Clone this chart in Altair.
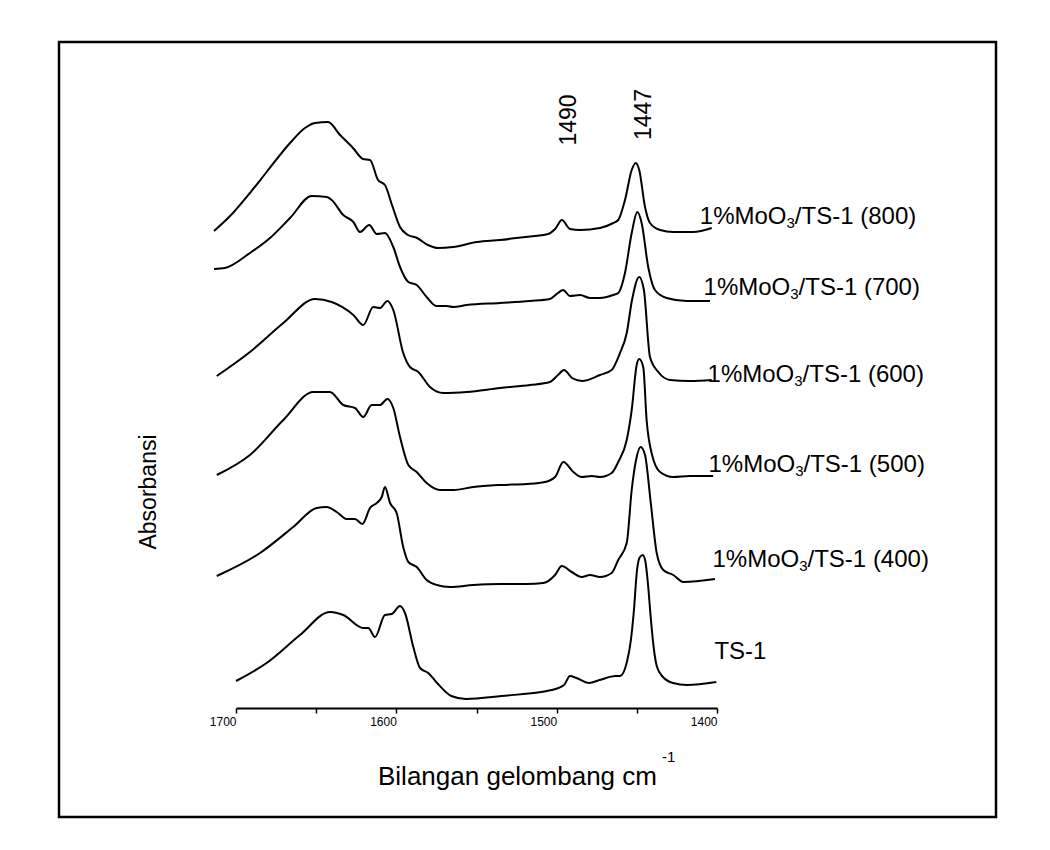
import altair as alt
import pandas as pd

# FTIR spectra of pyridine adsorbed on TS-1 and 1%MoO3/TS-1 calcined at 400-800 C
# wavenumber (cm-1) and stacked absorbance (a.u.)
wn_800 = [1713.7, 1701.9, 1691.3, 1680.9, 1666.3, 1657.0, 1650.7, 1642.6, 1635.1, 1627.0,
          1620.8, 1616.4, 1611.4, 1607.1, 1602.7, 1597.7, 1592.7, 1587.1, 1580.3, 1574.0,
          1564.7, 1549.7, 1535.3, 1519.7, 1505.4, 1501.0, 1496.7, 1491.7, 1485.4, 1473.0,
          1464.7, 1461.6, 1457.4, 1453.2, 1450.7, 1448.5, 1444.9, 1441.8, 1435.5, 1427.3,
          1414.8, 1403.3]
ab_800 = [4.77, 4.95, 5.15, 5.36, 5.65, 5.80, 5.85, 5.86, 5.73, 5.60,
          5.49, 5.48, 5.28, 5.23, 5.03, 4.81, 4.73, 4.70, 4.63, 4.60,
          4.61, 4.66, 4.68, 4.71, 4.74, 4.79, 4.88, 4.79, 4.78, 4.80,
          4.85, 4.88, 5.08, 5.38, 5.45, 5.38, 5.01, 4.85, 4.78, 4.76,
          4.76, 4.80]

wn_700 = [1713.7, 1706.9, 1691.3, 1678.8, 1666.3, 1652.8, 1643.4, 1640.3, 1633.1, 1626.8,
          1622.7, 1616.9, 1612.2, 1607.1, 1601.9, 1597.7, 1592.5, 1587.3, 1581.1, 1574.8,
          1568.6, 1564.5, 1556.1, 1535.3, 1516.6, 1504.2, 1499.2, 1496.0, 1491.7, 1485.4,
          1479.2, 1473.0, 1464.7, 1461.6, 1457.4, 1453.2, 1449.7, 1447.0, 1442.9, 1438.7,
          1431.4, 1418.9, 1404.4]
ab_700 = [4.39, 4.40, 4.55, 4.70, 4.90, 5.12, 5.11, 5.08, 4.93, 4.86,
          4.76, 4.83, 4.74, 4.75, 4.61, 4.41, 4.26, 4.23, 4.11, 4.02,
          4.02, 4.01, 4.03, 4.05, 4.07, 4.09, 4.15, 4.18, 4.12, 4.13,
          4.10, 4.10, 4.13, 4.15, 4.35, 4.75, 4.96, 4.85, 4.41, 4.18,
          4.10, 4.07, 4.07]

wn_600 = [1712.0, 1691.3, 1670.5, 1650.7, 1640.3, 1626.8, 1620.6, 1614.4, 1610.2, 1605.6,
          1601.9, 1595.7, 1591.5, 1586.3, 1579.0, 1570.7, 1556.1, 1535.3, 1516.6, 1504.2,
          1499.2, 1495.4, 1490.4, 1484.2, 1473.0, 1465.7, 1460.5, 1456.3, 1453.0, 1448.5,
          1445.6, 1441.8, 1436.6, 1429.3, 1416.9, 1403.3]
ab_600 = [3.32, 3.56, 3.85, 4.09, 4.06, 3.93, 3.83, 4.01, 4.00, 4.07,
          3.98, 3.55, 3.41, 3.36, 3.21, 3.15, 3.16, 3.20, 3.23, 3.26,
          3.33, 3.38, 3.30, 3.27, 3.33, 3.38, 3.55, 3.75, 4.08, 4.31,
          4.18, 3.51, 3.36, 3.28, 3.27, 3.28]

wn_500 = [1712.0, 1691.3, 1670.5, 1651.8, 1641.4, 1633.1, 1625.8, 1620.6, 1615.4, 1610.2,
          1605.6, 1601.9, 1597.7, 1592.5, 1587.3, 1581.1, 1572.8, 1564.5, 1552.0, 1535.3,
          1518.7, 1507.3, 1501.0, 1495.8, 1489.6, 1484.4, 1478.1, 1473.0, 1465.7, 1461.6,
          1456.3, 1453.2, 1450.1, 1448.5, 1446.0, 1443.9, 1440.8, 1435.5, 1427.3, 1416.9,
          1402.4]
ab_500 = [2.33, 2.53, 2.88, 3.16, 3.16, 3.03, 3.00, 2.91, 3.03, 3.03,
          3.09, 3.00, 2.71, 2.43, 2.36, 2.25, 2.18, 2.18, 2.21, 2.23,
          2.24, 2.26, 2.31, 2.46, 2.36, 2.31, 2.32, 2.31, 2.35, 2.46,
          2.68, 2.98, 3.43, 3.49, 3.41, 2.88, 2.55, 2.36, 2.31, 2.32,
          2.32]

wn_400 = [1712.0, 1685.0, 1664.3, 1649.7, 1643.4, 1637.2, 1631.0, 1625.8, 1621.2, 1616.4,
          1612.2, 1609.1, 1607.1, 1603.9, 1599.8, 1595.7, 1592.5, 1587.3, 1581.1, 1574.8,
          1566.5, 1552.0, 1535.3, 1518.7, 1508.3, 1501.0, 1496.8, 1490.6, 1484.4, 1479.2,
          1473.0, 1465.7, 1461.6, 1456.3, 1453.2, 1450.5, 1447.6, 1444.9, 1441.3, 1437.6,
          1433.5, 1427.3, 1421.0, 1401.3]
ab_400 = [1.32, 1.55, 1.81, 2.00, 2.01, 1.96, 1.89, 1.89, 1.84, 2.00,
          2.05, 2.11, 2.21, 2.05, 1.95, 1.61, 1.46, 1.41, 1.28, 1.23,
          1.21, 1.23, 1.24, 1.24, 1.25, 1.33, 1.42, 1.36, 1.31, 1.33,
          1.31, 1.35, 1.48, 1.65, 2.18, 2.48, 2.61, 2.53, 2.05, 1.55,
          1.38, 1.33, 1.26, 1.29]

wn_ts1 = [1700.0, 1680.9, 1660.1, 1641.4, 1633.1, 1620.6, 1617.5, 1613.3, 1607.1, 1602.9,
          1597.7, 1594.6, 1589.4, 1585.2, 1580.1, 1574.6, 1565.7, 1556.7, 1534.5, 1503.3,
          1495.4, 1491.7, 1487.7, 1479.8, 1473.2, 1463.2, 1460.5, 1456.2, 1453.7, 1451.8,
          1450.0, 1448.4, 1446.3, 1444.6, 1443.0, 1441.2, 1439.3, 1437.4, 1433.7, 1427.4,
          1418.7, 1400.4]
ab_ts1 = [0.27, 0.45, 0.73, 0.96, 0.93, 0.80, 0.80, 0.71, 0.93, 0.94,
          1.02, 0.95, 0.61, 0.40, 0.35, 0.25, 0.12, 0.09, 0.12, 0.18,
          0.23, 0.32, 0.30, 0.25, 0.28, 0.32, 0.32, 0.46, 0.68, 0.98,
          1.36, 1.50, 1.53, 1.46, 1.23, 0.88, 0.58, 0.41, 0.31, 0.25,
          0.23, 0.26]

samples = ["TS-1", "400", "500", "600", "700", "800"]
wn_sets = [wn_ts1, wn_400, wn_500, wn_600, wn_700, wn_800]
ab_sets = [ab_ts1, ab_400, ab_500, ab_600, ab_700, ab_800]

# curve labels: calcination temperature, anchor wavenumber and absorbance
label_temps = ["800", "700", "600", "500", "400"]
label_wn = [1410.7, 1408.4, 1405.9, 1405.3, 1402.8]
label_ab = [4.844, 4.129, 3.264, 2.364, 1.414]
ts1_label_wn = [1401.6]
ts1_label_ab = [0.494]

# band annotations
band_text = ["1447", "1490"]
band_wn = [1445.6, 1492.3]
band_ab = [5.935, 5.88]

FONT = "Liberation Sans"

rows = []
for name, ws, abs_ in zip(samples, wn_sets, ab_sets):
    for i, (w, a) in enumerate(zip(ws, abs_)):
        rows.append({"sample": name, "wn": w, "A": a, "order": i})
spectra = pd.DataFrame(rows)

x_scale = alt.Scale(domain=[1700, 1400], nice=False, zero=False)
y_scale = alt.Scale(domain=[0, 6.28], nice=False, zero=False)

x_axis = alt.Axis(
    values=[1700, 1650, 1600, 1550, 1500, 1450, 1400],
    labelExpr="datum.value % 100 == 0 ? format(datum.value, 'd') : ''",
    title=None, grid=False,
    domainColor="black", domainWidth=2,
    tickColor="black", tickWidth=1.5, tickSize=5,
    labelFont=FONT, labelFontSize=12, labelColor="black",
    labelAlign="right", labelPadding=3,
)

lines = alt.Chart(spectra).mark_line(
    color="black", strokeWidth=2, interpolate="monotone"
).encode(
    x=alt.X("wn:Q", scale=x_scale, axis=x_axis),
    y=alt.Y("A:Q", scale=y_scale, axis=None),
    detail="sample:N",
    order="order:Q",
)

lab_df = pd.DataFrame({
    "main": ["1%MoO"] * len(label_temps),
    "sub": ["3"] * len(label_temps),
    "rest": ["/TS-1 (" + t + ")" for t in label_temps],
    "wn": label_wn,
    "A": label_ab,
})

def text_layer(df, field, size, dx=0, dy=0, angle=0, align="left", baseline="alphabetic"):
    return alt.Chart(df).mark_text(
        font=FONT, fontSize=size, color="black", align=align,
        baseline=baseline, dx=dx, dy=dy, angle=angle,
    ).encode(
        x=alt.X("wn:Q", scale=x_scale),
        y=alt.Y("A:Q", scale=y_scale),
        text=f"{field}:N",
    )

LS = 24
main_w = (0.556 + 0.889 + 0.833 + 0.556 + 0.778) * LS
sub_size = 15
sub_w = 0.556 * sub_size

lab_main = text_layer(lab_df, "main", LS)
lab_sub = text_layer(lab_df, "sub", sub_size, dx=main_w, dy=4)
lab_rest = text_layer(lab_df, "rest", LS, dx=main_w + sub_w)

ts1_df = pd.DataFrame({"t": ["TS-1"], "wn": ts1_label_wn, "A": ts1_label_ab})
lab_ts1 = text_layer(ts1_df, "t", LS)

band_df = pd.DataFrame({"t": band_text, "wn": band_wn, "A": band_ab})
bands = text_layer(band_df, "t", 23, angle=270, align="center", baseline="middle")

# axis titles
x_title = alt.Chart(pd.DataFrame({"t": ["Bilangan gelombang cm"]})).mark_text(
    font=FONT, fontSize=26, color="black", align="left", baseline="alphabetic"
).encode(text="t:N", x=alt.value(142), y=alt.value(705))
x_title_sup = alt.Chart(pd.DataFrame({"t": ["-1"]})).mark_text(
    font=FONT, fontSize=15, color="black", align="left", baseline="alphabetic"
).encode(text="t:N", x=alt.value(426), y=alt.value(682))
y_title = alt.Chart(pd.DataFrame({"t": ["Absorbansi"]})).mark_text(
    font=FONT, fontSize=23, color="black", align="center", baseline="middle", angle=270
).encode(text="t:N", x=alt.value(-87), y=alt.value(412))

frame = alt.Chart(pd.DataFrame({"f": [0]})).mark_rect(
    fill=None, stroke="black", strokeWidth=2.5
).encode(x=alt.value(-177), x2=alt.value(760), y=alt.value(-38), y2=alt.value(737))

chart = alt.layer(
    frame, lines, lab_main, lab_sub, lab_rest, lab_ts1, bands, x_title, x_title_sup, y_title
).properties(
    width=481, height=628,
    padding={"left": 236, "top": 80, "right": 333, "bottom": 142},
    autosize=alt.AutoSizeParams(type="none"),
    background="white",
).configure_view(stroke=None)

chart.save("out.html", embed_options={"renderer": "svg", "actions": False})
